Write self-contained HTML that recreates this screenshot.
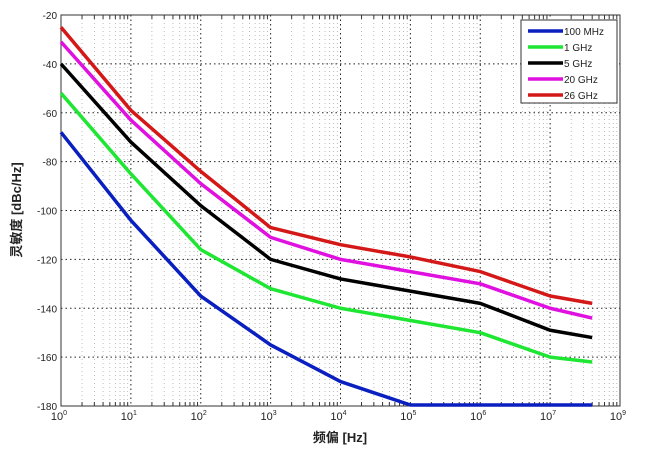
<!DOCTYPE html>
<html><head><meta charset="utf-8"><style>
body{margin:0;background:#fff;width:656px;height:460px;overflow:hidden}
svg{display:block;font-family:"Liberation Sans","Noto Sans CJK SC",sans-serif}
</style></head><body>
<svg id="s" width="656" height="460" xmlns="http://www.w3.org/2000/svg"></svg>
<script>
const L=61,R=620,T=15,B=406;
const X=v=>L+(R-L)*Math.log10(v)/8;
const Y=d=>T+(B-T)*(-20-d)/160;
let h='';
for(let e=0;e<8;e++)for(let m=2;m<10;m++){const x=X(m*Math.pow(10,e));h+=`<line x1="${x}" y1="${T}" x2="${x}" y2="${B}" stroke="#aaa" stroke-width="0.8" stroke-dasharray="1,3"/>`;
h+=`<line x1="${x}" y1="${B}" x2="${x}" y2="${B-4}" stroke="#333"/><line x1="${x}" y1="${T}" x2="${x}" y2="${T+4}" stroke="#333"/>`;}
for(let e=1;e<8;e++){const x=X(Math.pow(10,e));h+=`<line x1="${x}" y1="${T}" x2="${x}" y2="${B}" stroke="#222" stroke-width="1" stroke-dasharray="1.5,3"/>`;}
for(let d=-40;d>=-160;d-=20){const y=Y(d);h+=`<line x1="${L}" y1="${y}" x2="${R}" y2="${y}" stroke="#222" stroke-width="1" stroke-dasharray="1.5,3"/>`;}
for(let d=-20;d>=-180;d-=20){const y=Y(d);h+=`<text x="${L-4}" y="${y+4}" font-size="10" text-anchor="end" fill="#222">${d}</text>`;}
for(let e=0;e<=8;e++){const x=X(Math.pow(10,e));h+=`<text x="${x-2}" y="${B+14}" font-size="11" text-anchor="middle" fill="#222">10<tspan dy="-5" font-size="7">${e==8?9:e}</tspan></text>`;}
h+=`<rect x="${L}" y="${T}" width="${R-L}" height="${B-T}" fill="none" stroke="#333" stroke-width="1"/>`;
const xs=[1,10,100,1e3,1e4,1e5,1e6,1e7,4e7];
const S=[
['#0a1fbf',[-68,-104,-135,-155,-170,-180,-180,-180,-180]],
['#1ee632',[-52,-85,-116,-132,-140,-145,-150,-160,-162]],
['#000',[-40,-72,-98,-120,-128,-133,-138,-149,-152]],
['#e010e0',[-31,-63,-89,-111,-120,-125,-130,-140,-144]],
['#d41818',[-25,-59,-84,-107,-114,-119,-125,-135,-138]]];
for(const [c,d] of S){h+=`<polyline fill="none" stroke="${c}" stroke-width="3.5" stroke-linejoin="round" points="${xs.map((x,i)=>X(x)+','+Math.min(Y(d[i]),B-1)).join(' ')}"/>`;}
h+=`<rect x="521" y="20" width="96" height="83" fill="#fff" stroke="#333"/>`;
const names=['100 MHz','1 GHz','5 GHz','20 GHz','26 GHz'];
S.forEach((s,i)=>{const y=31+i*16;h+=`<line x1="528" y1="${y}" x2="563" y2="${y}" stroke="${s[0]}" stroke-width="3.5"/><text x="564" y="${y+4}" font-size="10" fill="#222">${names[i]}</text>`;});
h+=`<text x="340" y="442" font-size="13" font-weight="bold" text-anchor="middle" fill="#222">频偏 [Hz]</text>`;
h+=`<text transform="translate(21,210) rotate(-90)" font-size="13" font-weight="bold" text-anchor="middle" fill="#222">灵敏度 [dBc/Hz]</text>`;
document.getElementById('s').innerHTML=h;
</script>
</body></html>
